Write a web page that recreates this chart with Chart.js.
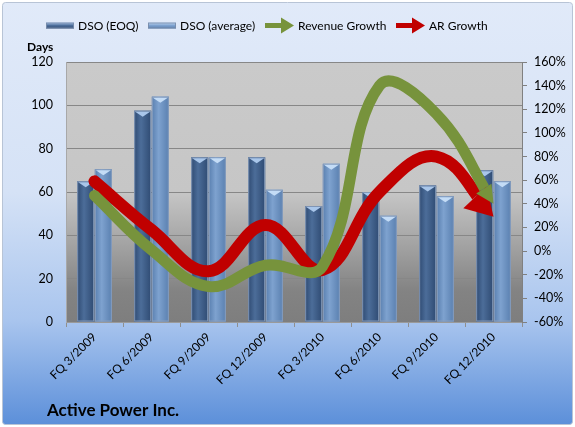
<!DOCTYPE html>
<html>
<head>
<meta charset="utf-8">
<script src="https://cdn.jsdelivr.net/npm/chart.js@4.4.0/dist/chart.umd.min.js"></script>
<style>
  html, body { margin: 0; padding: 0; background: #fff; }
</style>
</head>
<body>
<canvas id="dsoChart" width="575" height="427"></canvas>
<script>
// values
const quarters = ["FQ 3/2009", "FQ 6/2009", "FQ 9/2009", "FQ 12/2009",
                  "FQ 3/2010", "FQ 6/2010", "FQ 9/2010", "FQ 12/2010"];
const dsoEoq = [65, 97.5, 76, 76, 53.5, 60, 63, 70];
const dsoAverage = [70.5, 104, 76, 61, 73, 49, 58, 65];
const revenueGrowth = [47, 1, -30, -12, -13, 140, 116, 40];
const arGrowth = [59, 18, -17, 22, -16, 50, 80, 29];
const daysRange = [0, 120];
const growthRange = [-60, 160];

const FONT = "Lato, 'Open Sans', sans-serif";

// bar looks: edge, middle, cap
const barLooks = {
  "DSO (EOQ)": ["#2f4b73", "#4c6d99", "#a9c6ea"],
  "DSO (average)": ["#5a80b0", "#7ea2cf", "#c4dcf6"]
};

const backdrop = {
  id: "backdrop",
  beforeDraw(chart) {
    const { ctx, chartArea: a } = chart;
    ctx.save();
    ctx.fillStyle = "#fff";
    ctx.fillRect(0, 0, chart.width, chart.height);
    const g = ctx.createLinearGradient(0, 0, 0, chart.height);
    g.addColorStop(0, "#e1eaf9");
    g.addColorStop(0.45, "#d5e2f6");
    g.addColorStop(0.75, "#a9c5ee");
    g.addColorStop(1, "#5a8ed9");
    ctx.beginPath();
    ctx.roundRect(2.5, 2.5, chart.width - 5, chart.height - 5, 3);
    ctx.fillStyle = g;
    ctx.fill();
    ctx.strokeStyle = "#b8c4d6";
    ctx.lineWidth = 1;
    ctx.stroke();

    const pg = ctx.createLinearGradient(0, a.top, 0, a.bottom);
    pg.addColorStop(0, "#cacaca");
    pg.addColorStop(0.5, "#c6c6c6");
    pg.addColorStop(0.72, "#a0a0a0");
    pg.addColorStop(0.88, "#838383");
    pg.addColorStop(1, "#7e7e7e");
    ctx.fillStyle = pg;
    ctx.fillRect(a.left, a.top, a.width, a.height);
    ctx.restore();
  }
};

const barShade = {
  id: "barShade",
  afterDatasetDraw(chart, args) {
    const ds = chart.data.datasets[args.index];
    if (ds.type !== "bar") return;
    const [edge, mid, cap] = barLooks[ds.label];
    const ctx = chart.ctx;
    ctx.save();
    args.meta.data.forEach((bar) => {
      const { x, y, base, width } = bar.getProps(["x", "y", "base", "width"], true);
      const l = x - width / 2;
      const g = ctx.createLinearGradient(l, 0, l + width, 0);
      g.addColorStop(0, edge);
      g.addColorStop(0.4, mid);
      g.addColorStop(1, edge);
      ctx.fillStyle = g;
      ctx.fillRect(l, y, width, base - y);
      ctx.strokeStyle = "rgba(140,160,190,0.9)";
      ctx.lineWidth = 1;
      ctx.strokeRect(l + 0.5, y + 0.5, width - 1, base - y - 1);
      ctx.beginPath();
      ctx.moveTo(l + 1, y + 1);
      ctx.lineTo(l + width - 1, y + 1);
      ctx.lineTo(x, y + 6);
      ctx.closePath();
      ctx.fillStyle = cap;
      ctx.fill();
    });
    ctx.restore();
  }
};

function headOf(meta, len) {
  const pts = meta.data;
  const p = pts[pts.length - 1];
  let cx = p.cp1x, cy = p.cp1y;
  if (cx === undefined || (Math.abs(cx - p.x) < 0.01 && Math.abs(cy - p.y) < 0.01)) {
    cx = pts[pts.length - 2].x;
    cy = pts[pts.length - 2].y;
  }
  let dx = p.x - cx, dy = p.y - cy;
  const d = Math.hypot(dx, dy);
  dx /= d; dy /= d;
  return { px: p.x, py: p.y, dx, dy, bx: p.x - dx * len, by: p.y - dy * len };
}

const arrowHeads = {
  id: "arrowHeads",
  beforeDatasetDraw(chart, args) {
    const ds = chart.data.datasets[args.index];
    if (ds.type !== "line") return;
    const h = headOf(args.meta, ds.headLength);
    const ctx = chart.ctx;
    const nx = -h.dy, ny = h.dx, R = 3000;
    ctx.save();
    ctx.beginPath();
    ctx.moveTo(h.bx + nx * R, h.by + ny * R);
    ctx.lineTo(h.bx + nx * R - h.dx * R, h.by + ny * R - h.dy * R);
    ctx.lineTo(h.bx - nx * R - h.dx * R, h.by - ny * R - h.dy * R);
    ctx.lineTo(h.bx - nx * R, h.by - ny * R);
    ctx.closePath();
    ctx.clip();
  },
  afterDatasetDraw(chart, args) {
    const ds = chart.data.datasets[args.index];
    if (ds.type !== "line") return;
    const ctx = chart.ctx;
    ctx.restore();
    const h = headOf(args.meta, ds.headLength);
    const nx = -h.dy, ny = h.dx, w = ds.headWidth;
    ctx.save();
    ctx.beginPath();
    ctx.moveTo(h.px, h.py);
    ctx.lineTo(h.bx + nx * w, h.by + ny * w);
    ctx.lineTo(h.bx - nx * w, h.by - ny * w);
    ctx.closePath();
    ctx.fillStyle = ds.borderColor;
    ctx.fill();
    ctx.restore();
  }
};

const labelsAndLegend = {
  id: "labelsAndLegend",
  afterDraw(chart) {
    const ctx = chart.ctx;
    ctx.save();
    ctx.textBaseline = "middle";
    ctx.fillStyle = "#000";
    ctx.font = "bold 12px " + FONT;
    ctx.fillText("Days", 27, 47);
    ctx.font = "bold 17px " + FONT;
    ctx.textBaseline = "alphabetic";
    ctx.fillText("Active Power Inc.", 47, 416);

    // legend
    const ds = chart.data.datasets;
    const items = [
      { ds: ds[0], icon: 46, text: 78 },
      { ds: ds[1], icon: 148, text: 180 },
      { ds: ds[2], icon: 265, text: 298 },
      { ds: ds[3], icon: 396, text: 429 }
    ];
    const cy = 25.5;
    items.forEach((it) => {
      if (it.ds.type === "bar") {
        const [edge, mid, cap] = barLooks[it.ds.label];
        const g = ctx.createLinearGradient(0, cy - 3, 0, cy + 3);
        g.addColorStop(0, cap);
        g.addColorStop(0.5, mid);
        g.addColorStop(1, edge);
        ctx.fillStyle = g;
        ctx.fillRect(it.icon, cy - 3, 28, 6);
        ctx.strokeStyle = "rgba(120,140,170,0.9)";
        ctx.lineWidth = 1;
        ctx.strokeRect(it.icon + 0.5, cy - 2.5, 27, 5);
      } else {
        ctx.strokeStyle = it.ds.borderColor;
        ctx.lineWidth = 5;
        ctx.beginPath();
        ctx.moveTo(it.icon, cy);
        ctx.lineTo(it.icon + 18, cy);
        ctx.stroke();
        ctx.beginPath();
        ctx.moveTo(it.icon + 29, cy);
        ctx.lineTo(it.icon + 16, cy - 8);
        ctx.lineTo(it.icon + 16, cy + 8);
        ctx.closePath();
        ctx.fillStyle = it.ds.borderColor;
        ctx.fill();
      }
      ctx.fillStyle = "#000";
      ctx.font = "12px " + FONT;
      ctx.textBaseline = "middle";
      ctx.fillText(it.ds.label, it.text, cy + 1);
    });
    ctx.restore();
  }
};

new Chart(document.getElementById("dsoChart"), {
  data: {
    labels: quarters,
    datasets: [
      {
        type: "bar",
        label: "DSO (EOQ)",
        data: dsoEoq,
        yAxisID: "days",
        backgroundColor: "#4c6d99",
        categoryPercentage: 0.62,
        barPercentage: 0.96,
        order: 3
      },
      {
        type: "bar",
        label: "DSO (average)",
        data: dsoAverage,
        yAxisID: "days",
        backgroundColor: "#7ea2cf",
        categoryPercentage: 0.62,
        barPercentage: 0.96,
        order: 4
      },
      {
        type: "line",
        label: "Revenue Growth",
        data: revenueGrowth,
        yAxisID: "growth",
        borderColor: "#77933c",
        borderWidth: 11,
        tension: 0.4,
        pointRadius: 0,
        borderCapStyle: "round",
        headLength: 18,
        headWidth: 9,
        order: 1
      },
      {
        type: "line",
        label: "AR Growth",
        data: arGrowth,
        yAxisID: "growth",
        borderColor: "#c00000",
        borderWidth: 12,
        tension: 0.4,
        pointRadius: 0,
        borderCapStyle: "round",
        headLength: 27,
        headWidth: 16,
        order: 2
      }
    ]
  },
  options: {
    responsive: false,
    animation: false,
    devicePixelRatio: 1,
    layout: { padding: { top: 62, left: 0, right: 0, bottom: 0 } },
    plugins: {
      legend: { display: false },
      tooltip: { enabled: false }
    },
    scales: {
      x: {
        offset: true,
        grid: {
          offset: true,
          drawOnChartArea: false,
          tickLength: 5,
          color: "#8f8f8f"
        },
        border: { color: "#9a9a9a" },
        ticks: {
          minRotation: 45,
          maxRotation: 45,
          color: "#000",
          font: { family: FONT, size: 12 }
        },
        afterFit(scale) { scale.height = 105; }
      },
      days: {
        position: "left",
        min: daysRange[0],
        max: daysRange[1],
        ticks: {
          stepSize: 20,
          padding: 13,
          color: "#000",
          font: { family: FONT, size: 12.5 }
        },
        grid: { color: "#878787", drawTicks: false },
        border: { color: "#a8a8a8" },
        afterFit(scale) { scale.width = 66; }
      },
      growth: {
        position: "right",
        min: growthRange[0],
        max: growthRange[1],
        ticks: {
          stepSize: 20,
          padding: 7,
          color: "#000",
          font: { family: FONT, size: 12.5 },
          callback: (v) => v + "%"
        },
        grid: { drawOnChartArea: false, tickLength: 5, color: "#808080" },
        border: { color: "#808080" },
        afterFit(scale) { scale.width = 53; }
      }
    }
  },
  plugins: [backdrop, barShade, arrowHeads, labelsAndLegend]
});
</script>
</body>
</html>
